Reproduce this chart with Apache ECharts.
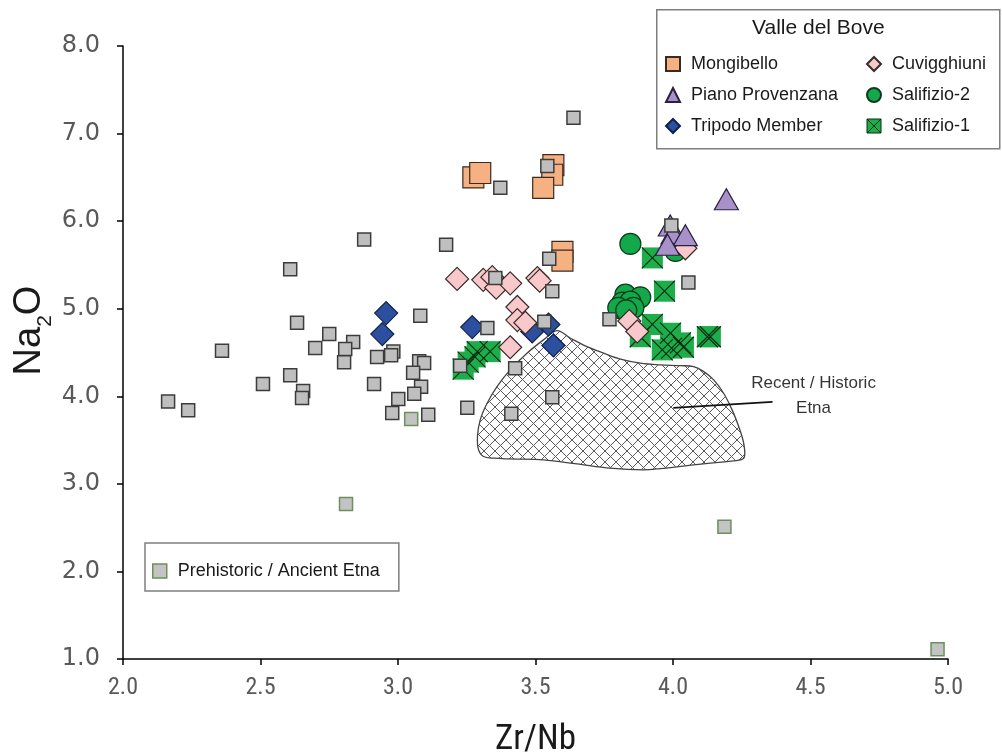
<!DOCTYPE html>
<html><head><meta charset="utf-8">
<script src="https://cdn.jsdelivr.net/npm/echarts@6/dist/echarts.min.js"></script>
<style>html,body{margin:0;padding:0;background:#fff}#c{width:1002px;height:755px}</style>
</head><body><div id="c"></div>
<script>
// ---- data (Zr/Nb, Na2O) ----
const mongibello = [[3.274,6.50],[3.299,6.55],[3.565,6.64],[3.561,6.53],[3.528,6.38],[3.598,5.65],[3.598,5.55]];
const cuvigghiuni = [[3.215,5.34],[3.310,5.33],[3.343,5.36],[3.357,5.24],[3.408,5.29],[3.507,5.35],[3.515,5.32],
  [3.434,5.02],[3.434,4.87],[3.463,4.84],[3.408,4.56],[3.841,4.86],[3.870,4.74],[4.045,5.69]];
const tripodo = [[2.957,4.95],[2.943,4.71],[3.270,4.79],[3.488,4.74],[3.547,4.82],[3.565,4.58]];
const pianoProvenzana = [[4.194,6.25],[3.990,5.95],[4.000,5.86],[4.045,5.84],[3.980,5.73]];
const salifizio2 = [[3.845,5.74],[4.009,5.66],[3.827,5.16],[3.881,5.13],[3.816,5.07],[3.845,5.08],[3.801,5.01],[3.856,5.01],[3.830,4.98]];
const salifizio1 = [[3.925,5.58],[3.969,5.20],[3.925,4.82],[3.881,4.68],[3.991,4.72],[4.027,4.61],[3.961,4.53],[3.995,4.55],
  [4.038,4.56],[4.125,4.68],[4.136,4.68],[3.288,4.51],[3.335,4.51],[3.255,4.39],[3.237,4.31],[3.280,4.45]];
const prehistoric = [[3.638,7.18],[3.372,6.38],[3.543,6.63],[2.877,5.79],[3.175,5.73],[2.608,5.45],[3.550,5.57],[3.354,5.35],
  [3.561,5.20],[4.056,5.30],[3.994,5.95],[3.532,4.85],[3.325,4.78],[3.769,4.88],[3.561,3.99],[3.426,4.32],[3.412,3.80],
  [3.252,3.87],[3.226,4.35],[3.081,4.92],[2.633,4.84],[2.750,4.71],[2.699,4.55],[2.837,4.62],[2.808,4.54],[2.804,4.39],
  [2.360,4.52],[2.924,4.45],[2.983,4.51],[2.975,4.47],[3.077,4.40],[3.095,4.38],[3.055,4.27],[2.608,4.24],[2.509,4.14],
  [2.913,4.14],[3.084,4.11],[2.655,4.06],[2.651,3.98],[3.059,4.03],[3.001,3.97],[2.164,3.94],[2.237,3.84],[2.979,3.81],[3.110,3.79]];
const prehistoricPale = [[3.048,3.74],[2.811,2.77],[4.187,2.51],[4.962,1.11]];
// outline of the Recent / Historic Etna field
const recentField = [[3.578,4.750],[3.627,4.663],[3.687,4.567],[3.748,4.492],[3.809,4.424],[3.881,4.378],[3.954,4.358],
  [4.027,4.350],[4.075,4.339],[4.112,4.282],[4.148,4.187],[4.184,4.035],[4.215,3.845],[4.239,3.654],[4.257,3.465],
  [4.260,3.312],[4.245,3.274],[4.197,3.255],[4.075,3.217],[3.954,3.175],[3.893,3.160],[3.772,3.179],[3.651,3.228],
  [3.529,3.274],[3.408,3.285],[3.348,3.293],[3.311,3.312],[3.293,3.388],[3.289,3.540],[3.299,3.731],[3.324,3.921],
  [3.360,4.111],[3.408,4.301],[3.469,4.492],[3.529,4.644]];
const recentPointer = [[4.001,3.868],[4.362,3.936]];
const recentLabelPos = [[4.511,4.010]];
const recentLabel = 'Recent / Historic\nEtna';
const xTicks = {min:2.0, max:5.0, step:0.5};
const yTicks = {min:1.0, max:8.0, step:1.0};

// ---- crosshatch pattern ----
function hatch(){
  const s = 11, c = document.createElement('canvas');
  c.width = s; c.height = s;
  const g = c.getContext('2d');
  g.strokeStyle = '#5a5a5a'; g.lineWidth = 1;
  for (const d of [-s, 0, s]) {
    g.beginPath(); g.moveTo(d, 0); g.lineTo(d + s, s); g.stroke();
    g.beginPath(); g.moveTo(d + s, 0); g.lineTo(d, s); g.stroke();
  }
  return c;
}
const pattern = {image: hatch(), repeat: 'repeat'};

const chart = echarts.init(document.getElementById('c'));
const txt = '#1a1a1a';
const xSym = 'path://M0,0L20,20M20,0L0,20';
const xBoxSym = 'path://M0,0L20,0L20,20L0,20ZM0,0L20,20M20,0L0,20';

const legendCommon = {
  orient: 'vertical', itemWidth: 14, itemHeight: 14, itemGap: 13, symbolKeepAspect: true,
  textStyle: {fontFamily: 'Liberation Sans', fontSize: 18, color: txt, padding: [0, 0, 0, 6]},
  selectedMode: false
};

chart.setOption({
  animation: false,
  backgroundColor: '#fff',
  grid: {left: 123, right: 54, top: 46, bottom: 96, outerBoundsMode: 'none', containLabel: false},
  xAxis: {
    type: 'value', min: xTicks.min, max: xTicks.max, interval: xTicks.step,
    splitLine: {show: false},
    axisLine: {show: true, onZero: false, lineStyle: {color: '#000', width: 1.5}},
    axisTick: {show: true, length: 6, lineStyle: {color: '#000', width: 1.5}},
    axisLabel: {margin: 17, color: '#595959', fontSize: 24, fontFamily: 'Liberation Sans Narrow, Roboto Condensed, Liberation Sans',
      formatter: v => v.toFixed(1)},
    name: 'Zr/Nb', nameLocation: 'middle', nameGap: 64, nameMoveOverlap: false,
    nameTextStyle: {fontSize: 35, color: txt, fontFamily: 'Liberation Sans Narrow, Roboto Condensed, Liberation Sans'}
  },
  yAxis: {
    type: 'value', min: yTicks.min, max: yTicks.max, interval: yTicks.step,
    splitLine: {show: false},
    axisLine: {show: true, onZero: false, lineStyle: {color: '#000', width: 1.5}},
    axisTick: {show: true, length: 6, lineStyle: {color: '#000', width: 1.5}},
    axisLabel: {margin: 23, color: '#595959', fontSize: 24, fontFamily: 'DejaVu Sans',
      formatter: v => v.toFixed(1)},
    name: '{a|Na}{s|2}{a|O}', nameLocation: 'middle', nameGap: 74, nameRotate: 90, nameMoveOverlap: false,
    nameTextStyle: {padding: [0, 0, 0, 44], rich: {
      a: {fontSize: 38, color: txt, fontFamily: 'Liberation Sans', lineHeight: 42, verticalAlign: 'bottom'},
      s: {fontSize: 21, color: txt, fontFamily: 'Liberation Sans', lineHeight: 42, verticalAlign: 'bottom', padding: [0, 0, -7, 0]}
    }}
  },
  graphic: [
    {type: 'rect', left: 656, top: 9, shape: {width: 343, height: 139},
      style: {fill: '#fff', stroke: '#7f7f7f', lineWidth: 1.5}, z: 50},
    {type: 'text', left: 752, top: 18, style: {text: 'Valle del Bove', fontFamily: 'Liberation Sans', fontSize: 21, fill: txt}, z: 51}
  ],
  legend: [
    Object.assign({}, legendCommon, {left: 660, top: 50, z: 60,
      data: ['Mongibello', 'Piano Provenzana', 'Tripodo Member']}),
    Object.assign({}, legendCommon, {left: 861, top: 50, z: 60,
      data: ['Cuvigghiuni', 'Salifizio-2',
        {name: 'Salifizio-1', icon: xBoxSym, itemStyle: {color: '#1cae4a', borderColor: '#0d2a14', borderWidth: 1}}]}),
    Object.assign({}, legendCommon, {left: 145, top: 543, padding: [19, 19, 11, 7],
      borderColor: '#7f7f7f', borderWidth: 1.5, backgroundColor: '#fff',
      data: [{name: 'Prehistoric / Ancient Etna', itemStyle: {color: '#c3c3c3', borderColor: '#6d8f5d', borderWidth: 1.5}}]})
  ],
  series: [
    {
      type: 'custom', name: 'recentField', data: recentField, silent: true, z: 1,
      renderItem: function (params, api) {
        if (params.dataIndex !== 0) return null;
        const pts = recentField.map(p => api.coord(p));
        return {type: 'polygon', shape: {points: pts, smooth: 0.35},
          style: {fill: pattern, stroke: '#444', lineWidth: 1.3}};
      }
    },
    {type: 'line', name: 'pointer', data: recentPointer, symbol: 'none', silent: true,
      lineStyle: {color: '#111', width: 1.6}, z: 3},
    {type: 'scatter', name: 'recentLabel', data: recentLabelPos, symbolSize: 0, silent: true,
      label: {show: true, position: 'inside', formatter: recentLabel, fontFamily: 'Liberation Sans',
        fontSize: 17, lineHeight: 25, color: '#000', align: 'center'}},
    {type: 'scatter', name: 'Salifizio-1', data: salifizio1, symbol: 'rect', symbolSize: 21,
      itemStyle: {color: '#1cae4a', borderColor: '#1cae4a', borderWidth: 0, opacity: 1}},
    {type: 'scatter', name: 'Salifizio-1 x', data: salifizio1, symbol: xSym, symbolSize: 21, silent: true,
      itemStyle: {color: 'none', borderColor: '#0d2a14', borderWidth: 1.1, opacity: 1}},
    {type: 'scatter', name: 'Salifizio-2', data: salifizio2, symbol: 'circle', symbolSize: 21,
      itemStyle: {color: '#13a84a', borderColor: '#0d3a1c', borderWidth: 1.2, opacity: 1}},
    {type: 'scatter', name: 'Tripodo Member', data: tripodo, symbol: 'diamond', symbolSize: 23,
      itemStyle: {color: '#2d4f9f', borderColor: '#10214a', borderWidth: 1.2, opacity: 1}},
    {type: 'scatter', name: 'Cuvigghiuni', data: cuvigghiuni, symbol: 'diamond', symbolSize: 23,
      itemStyle: {color: '#f8c8cb', borderColor: '#3a2a2a', borderWidth: 1.2, opacity: 1}},
    {type: 'scatter', name: 'Piano Provenzana', data: pianoProvenzana, symbol: 'triangle', symbolSize: [24, 21],
      itemStyle: {color: '#a890c9', borderColor: '#2a2040', borderWidth: 1.2, opacity: 1}},
    {type: 'scatter', name: 'Mongibello', data: mongibello, symbol: 'rect', symbolSize: 21,
      itemStyle: {color: '#f5b182', borderColor: '#3a2a20', borderWidth: 1.2, opacity: 1}},
    {type: 'scatter', name: 'Prehistoric / Ancient Etna', data: prehistoricPale, symbol: 'rect', symbolSize: 13,
      itemStyle: {color: '#c3c3c3', borderColor: '#6d8f5d', borderWidth: 1.5, opacity: 1}},
    {type: 'scatter', name: 'Prehistoric / Ancient Etna', data: prehistoric, symbol: 'rect', symbolSize: 13,
      itemStyle: {color: '#bfbfbf', borderColor: '#3c3c3c', borderWidth: 1.5, opacity: 1}}
  ]
});
</script>
</body></html>
